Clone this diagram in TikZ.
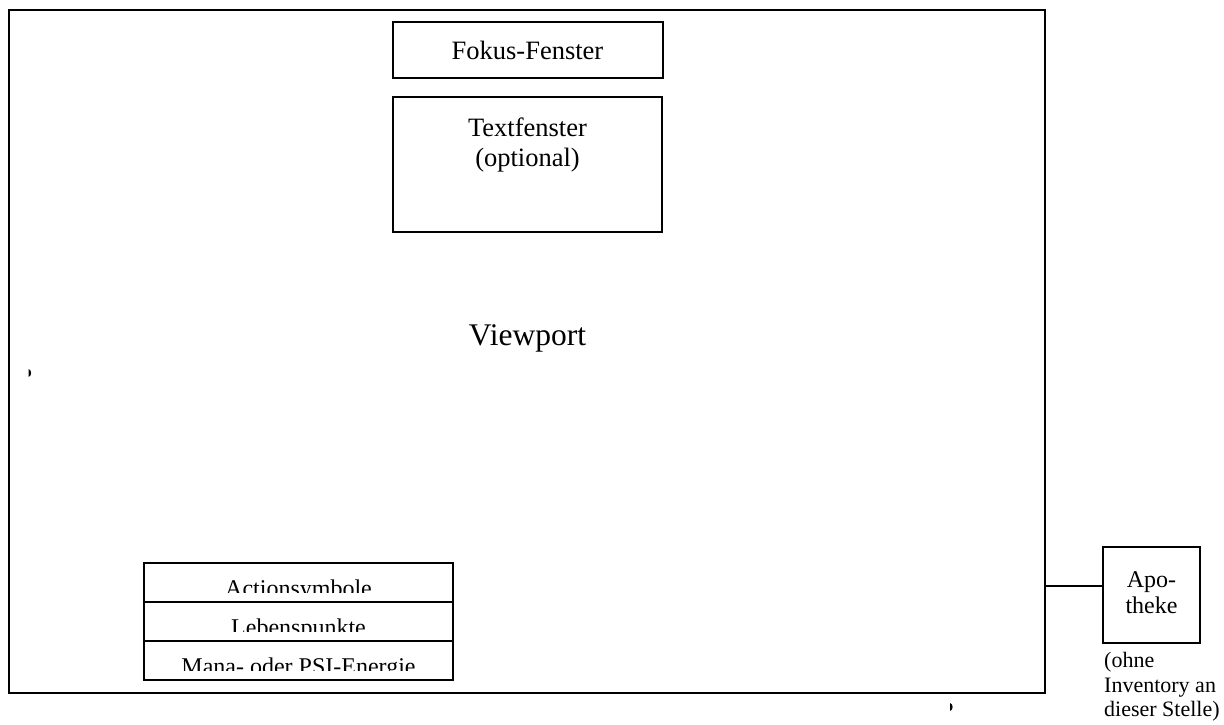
\documentclass[tikz,border=0pt]{standalone}
\usepackage{fontspec}
\setmainfont{Liberation Serif}
\usetikzlibrary{positioning}
\tikzstyle{frame}=[draw,line width=2pt,rectangle,inner sep=0pt,outer sep=0pt]
\tikzstyle{row}=[frame,minimum width=309pt,minimum height=39pt]
\tikzstyle{lbl}=[inner sep=0pt,font=\fontsize{26.5}{30}\selectfont]
\tikzstyle{small}=[inner sep=0pt,font=\fontsize{24}{27}\selectfont]
\tikzstyle{note}=[inner sep=0pt,anchor=base west,font=\fontsize{22}{24.5}\selectfont]

\begin{document}
\begin{tikzpicture}[x=1pt,y=-1pt]
\useasboundingbox (0,0) rectangle (1224,724);
% viewport and its windows
\node[frame,minimum width=1036pt,minimum height=683pt] at (527,351.5) (viewport) {};
\node[anchor=base,inner sep=0pt,font=\fontsize{31.5}{35}\selectfont] at (527.5,345) (vplabel) {Viewport};
\node[frame,minimum width=270pt,minimum height=56pt] at (527.5,50) (fokus) {};
\node[lbl,anchor=base] at (527.5,59) (fokuslbl) {Fokus-Fenster};
\node[frame,minimum width=269pt,minimum height=135pt] at (527.5,164.5) (text) {};
\node[lbl,anchor=base] at (527.5,136) (textlbl) {Textfenster};
\node[lbl,anchor=base] at (527.5,166) (optlbl) {(optional)};
% status bars, text cut off at the bottom
\node[row] at (298.5,582.5) (actions) {};
\node[row,below=0pt of actions] (leben) {};
\node[row,below=0pt of leben] (mana) {};
\begin{scope}
\clip (actions.north west) rectangle ([yshift=10pt]actions.south east);
\node[small,anchor=base] at ([yshift=6pt]actions.south) (actlbl) {Actionsymbole};
\end{scope}
\begin{scope}
\clip (leben.north west) rectangle ([yshift=10pt]leben.south east);
\node[small,anchor=base] at ([yshift=6pt]leben.south) (lebenlbl) {Lebenspunkte};
\end{scope}
\begin{scope}
\clip (mana.north west) rectangle ([yshift=10pt]mana.south east);
\node[small,anchor=base] at ([yshift=6pt]mana.south) (manalbl) {Mana- oder PSI-Energie};
\end{scope}
% apotheke outside
\node[frame,minimum width=97pt,minimum height=96pt] at (1151.5,595) (apo) {};
\node[small,anchor=base] at (1151.5,587) (apolbl1) {Apo-};
\node[small,anchor=base] at (1151.5,613) (apolbl2) {theke};
\coordinate (join) at (1045,586);
\draw[line width=2pt] (join) -- (join -| apo.west);
\node[note] at (1104,667) (note1) {(ohne};
\node[note] at (1104,692) (note2) {Inventory an};
\node[note] at (1104,716) (note3) {dieser Stelle)};
% stray marks
\fill (28.5,369) .. controls (32,370) and (32,376) .. (28.5,377) -- cycle;
\fill (950,703) .. controls (953.5,704) and (953.5,710) .. (950,711) -- cycle;
\end{tikzpicture}
\end{document}
